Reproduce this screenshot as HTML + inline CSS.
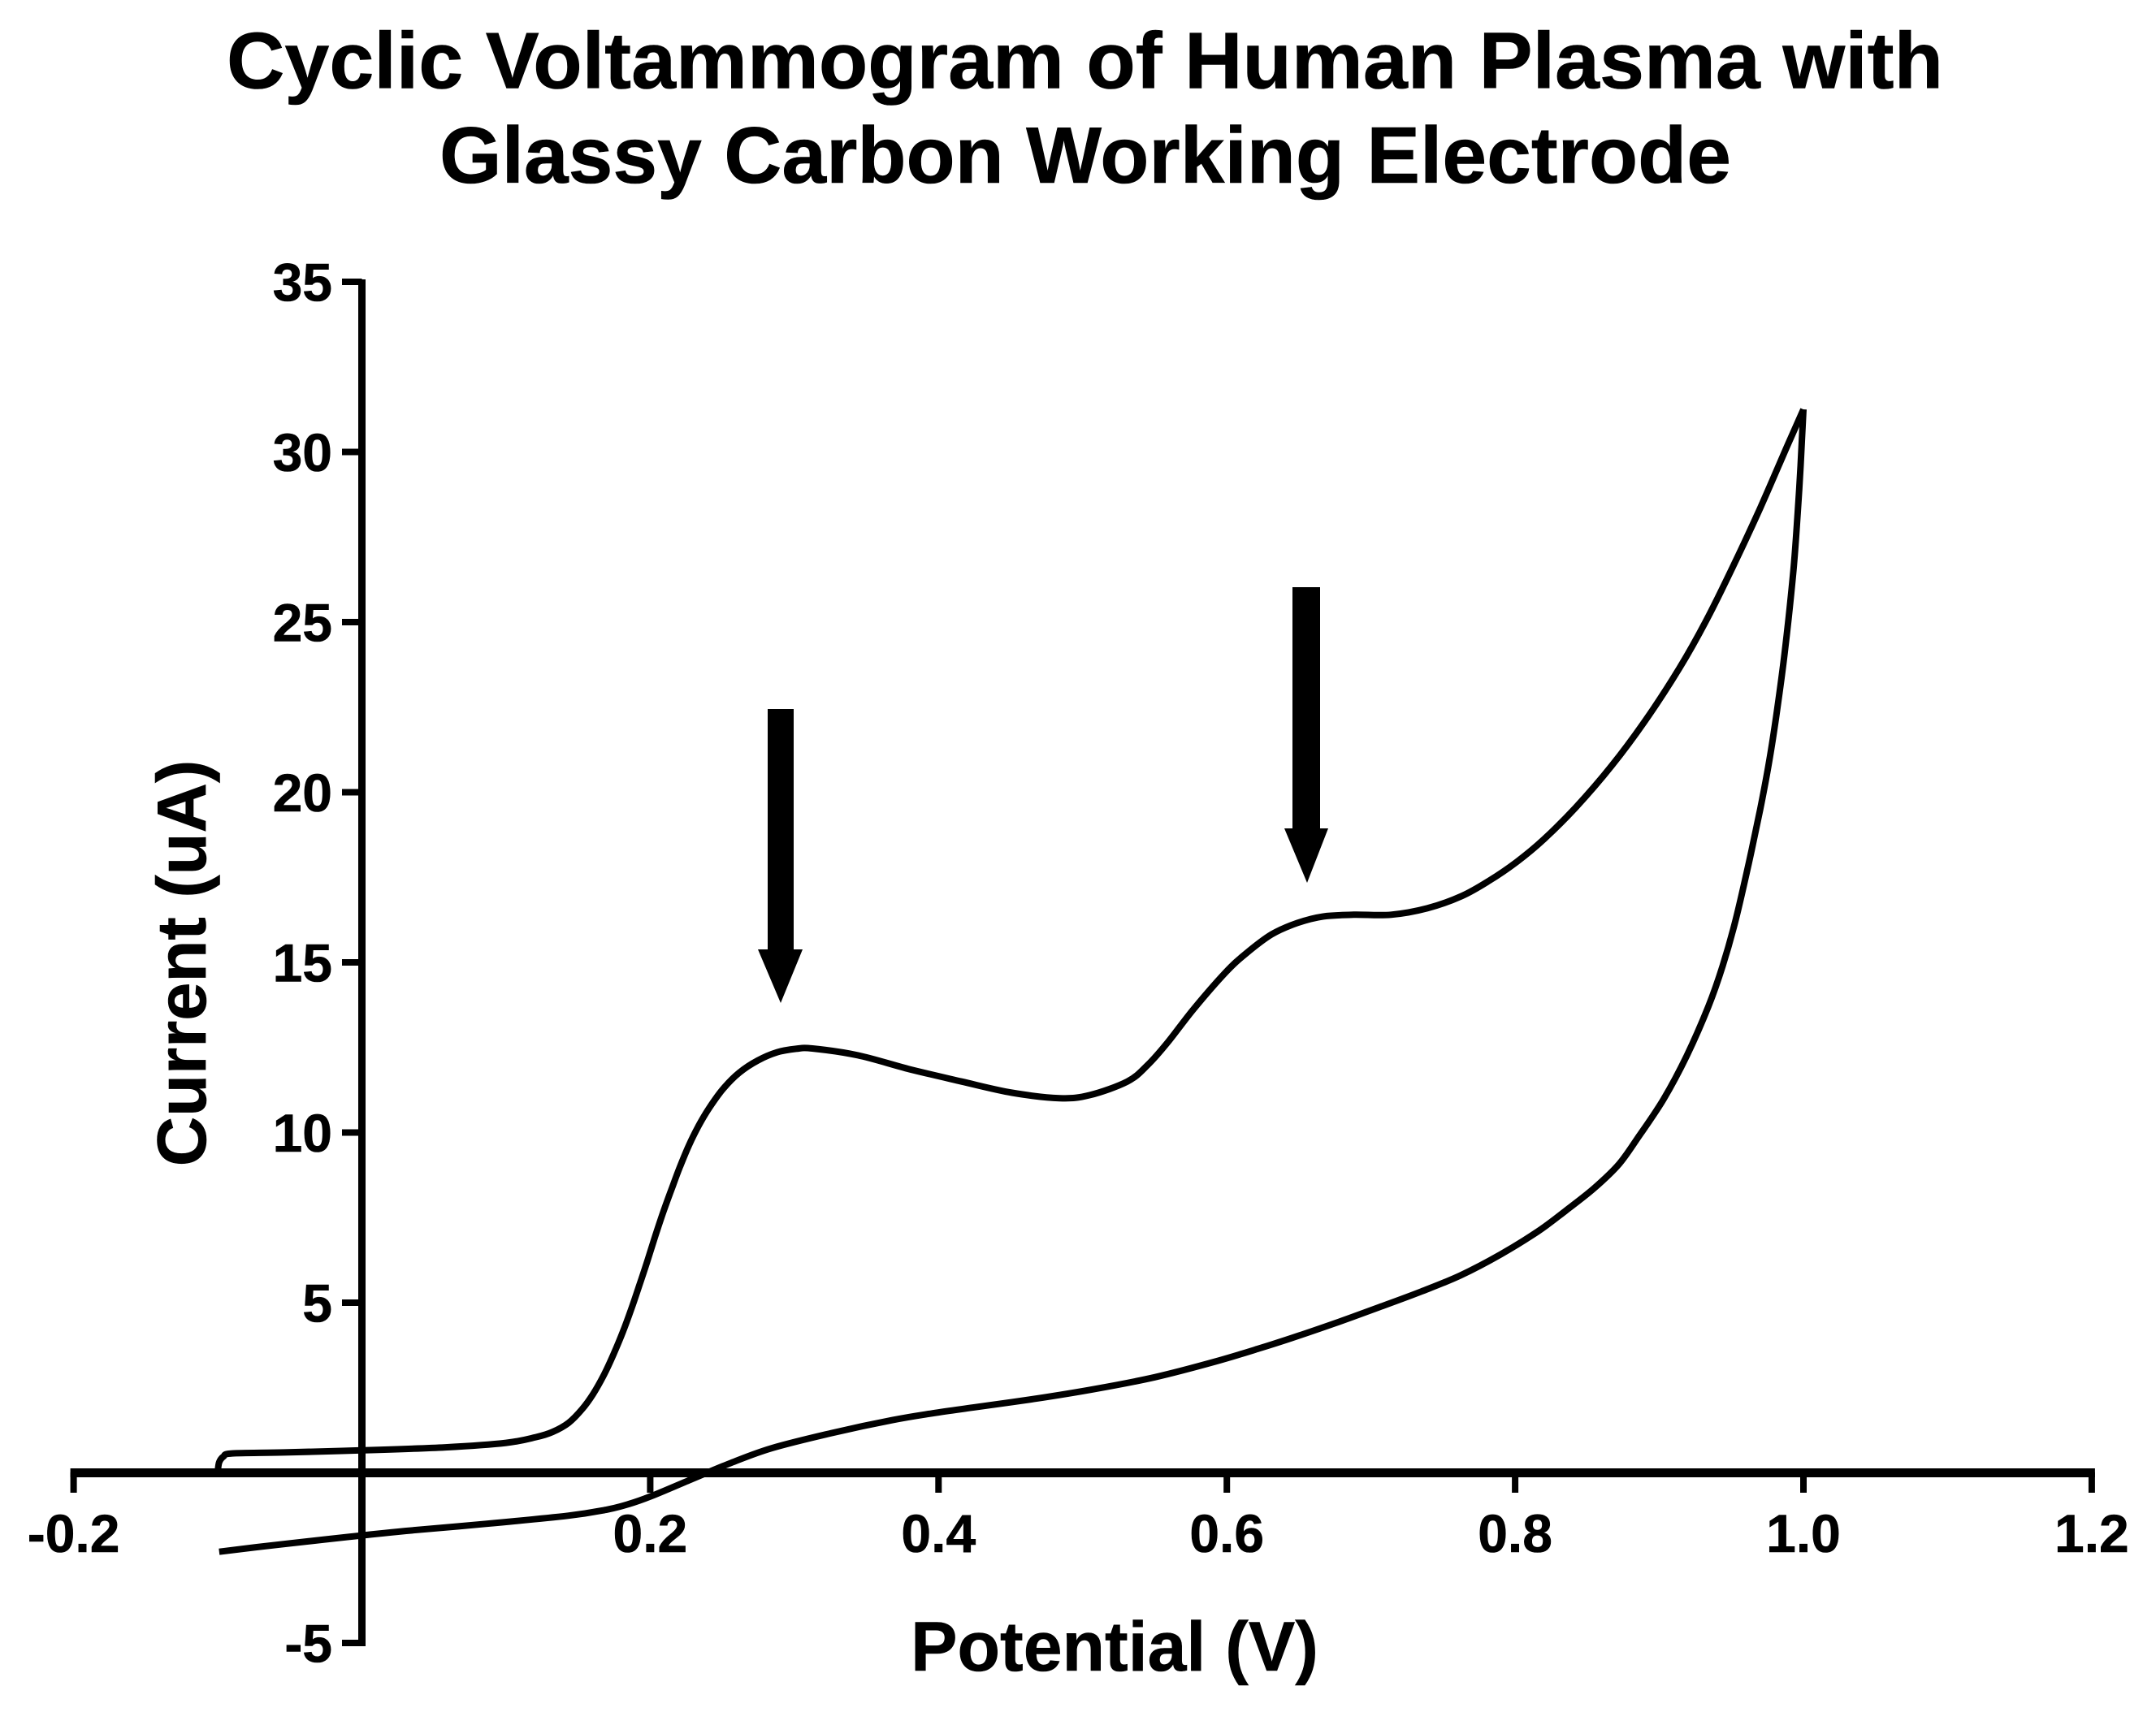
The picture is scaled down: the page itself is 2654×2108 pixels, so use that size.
<!DOCTYPE html>
<html lang="en">
<head>
<meta charset="utf-8">
<title>Cyclic Voltammogram of Human Plasma</title>
<style>
html,body{margin:0;padding:0;background:#fff;}
svg{display:block;}
text{font-family:"Liberation Sans",Arial,sans-serif;font-weight:700;fill:#000;stroke:#000;stroke-width:0.6;}
</style>
</head>
<body>
<svg id="chart" xmlns="http://www.w3.org/2000/svg" width="2654" height="2108" viewBox="0 0 2654 2108">
  <rect x="0" y="0" width="2654" height="2108" fill="#fff"/>
  <g>
    <text x="279" y="108.5" font-size="98.5" textLength="2113" lengthAdjust="spacingAndGlyphs">Cyclic Voltammogram of Human Plasma with</text>
    <text x="541" y="225" font-size="98.5" textLength="1590" lengthAdjust="spacingAndGlyphs">Glassy Carbon Working Electrode</text>
  </g>
  <g id="axes"></g>
  <g id="series"></g>
  <polygon points="945,873 977,873 977,1169 988,1169 961,1235 933,1169 945,1169" fill="#000"/>
  <polygon points="1591,723 1625,723 1625,1020 1635,1020 1609,1087 1581,1020 1591,1020" fill="#000"/>
  <text x="1372" y="2057" font-size="86" text-anchor="middle">Potential (V)</text>
  <text transform="translate(253 1186) rotate(-90)" font-size="85" text-anchor="middle">Current (uA)</text>
</svg>
<script>
const xTicks = [-0.2, 0.2, 0.4, 0.6, 0.8, 1.0, 1.2];
const xTickLabels = ["-0.2", "0.2", "0.4", "0.6", "0.8", "1.0", "1.2"];
const yTicks = [-5, 5, 10, 15, 20, 25, 30, 35];
const yTickLabels = ["-5", "5", "10", "15", "20", "25", "30", "35"];

const upperPotential = [-0.100, -0.099, -0.096, -0.090, -0.054, 0.000, 0.058, 0.100, 0.1209, 0.1322, 0.1434, 0.1528, 0.1603, 0.1678, 0.1744, 0.1810, 0.1866, 0.1923, 0.1979, 0.2035, 0.2092, 0.2157, 0.2205, 0.2268, 0.2336, 0.2409, 0.2505, 0.2618, 0.2747, 0.2882, 0.3012, 0.3125, 0.344, 0.380, 0.416, 0.451, 0.484, 0.505, 0.531, 0.545, 0.559, 0.577, 0.599, 0.613, 0.631, 0.649, 0.667, 0.688, 0.714, 0.739, 0.763, 0.782, 0.801, 0.820, 0.842, 0.867, 0.891, 0.914, 0.932, 0.951, 0.970, 0.989, 1.000];
const upperCurrent = [0.02, 0.31, 0.48, 0.57, 0.60, 0.66, 0.75, 0.88, 1.05, 1.20, 1.47, 1.87, 2.31, 2.87, 3.47, 4.14, 4.78, 5.49, 6.21, 6.96, 7.68, 8.44, 8.98, 9.62, 10.20, 10.72, 11.28, 11.76, 12.12, 12.36, 12.46, 12.47, 12.27, 11.86, 11.50, 11.17, 11.01, 11.10, 11.50, 11.98, 12.65, 13.63, 14.70, 15.25, 15.82, 16.16, 16.35, 16.40, 16.40, 16.59, 16.95, 17.40, 17.95, 18.62, 19.55, 20.78, 22.15, 23.65, 25.00, 26.62, 28.35, 30.20, 31.25];

const lowerPotential = [1.000, 0.998, 0.996, 0.993, 0.987, 0.981, 0.976, 0.970, 0.962, 0.953, 0.944, 0.934, 0.919, 0.903, 0.886, 0.872, 0.855, 0.835, 0.816, 0.790, 0.762, 0.735, 0.706, 0.678, 0.650, 0.622, 0.592, 0.550, 0.508, 0.466, 0.424, 0.396, 0.368, 0.326, 0.284, 0.256, 0.228, 0.201, 0.185, 0.170, 0.143, 0.086, 0.030, 0.000, -0.026, -0.068, -0.099];
const lowerCurrent = [31.25, 29.60, 28.20, 26.50, 24.10, 22.20, 20.85, 19.50, 17.90, 16.25, 14.90, 13.70, 12.25, 10.98, 9.90, 9.07, 8.37, 7.70, 7.10, 6.42, 5.80, 5.33, 4.87, 4.44, 4.03, 3.65, 3.27, 2.81, 2.46, 2.17, 1.92, 1.75, 1.55, 1.17, 0.72, 0.29, -0.20, -0.68, -0.92, -1.08, -1.26, -1.50, -1.71, -1.84, -1.96, -2.16, -2.32];

const NS = "http://www.w3.org/2000/svg";
function xScale(v) { return 445.5 + 1774.5 * v; }
function yScale(v) { return 1813.5 - 41.9 * v; }

const axesGroup = document.getElementById("axes");
const seriesGroup = document.getElementById("series");

function makeLine(x1, y1, x2, y2, width) {
  const l = document.createElementNS(NS, "line");
  l.setAttribute("x1", x1);
  l.setAttribute("y1", y1);
  l.setAttribute("x2", x2);
  l.setAttribute("y2", y2);
  l.setAttribute("stroke", "#000");
  l.setAttribute("stroke-width", width);
  return l;
}

const xAxisLine = makeLine(xScale(-0.2) - 4, 1813.5, xScale(1.2) + 4, 1813.5, 11);


axesGroup.appendChild(xAxisLine);

const yAxisLine = makeLine(xScale(0), yScale(35) - 3, xScale(0), yScale(-5) + 4, 9);


axesGroup.appendChild(yAxisLine);

xTicks.forEach(function (v, i) {
  const t = makeLine(xScale(v), 1813, xScale(v), 1838, 8);
  
  
  axesGroup.appendChild(t);
  const lab = document.createElementNS(NS, "text");
  lab.setAttribute("x", xScale(v));
  lab.setAttribute("y", 1911);
  lab.setAttribute("font-size", 66);
  lab.setAttribute("text-anchor", "middle");
  lab.textContent = xTickLabels[i];
  
  
  axesGroup.appendChild(lab);
});

yTicks.forEach(function (v, i) {
  const t = makeLine(421, yScale(v), xScale(0), yScale(v), 8);
  
  
  axesGroup.appendChild(t);
  const lab = document.createElementNS(NS, "text");
  lab.setAttribute("x", 409);
  lab.setAttribute("y", yScale(v) + 23.5);
  lab.setAttribute("font-size", 66);
  lab.setAttribute("text-anchor", "end");
  lab.textContent = yTickLabels[i];
  
  
  axesGroup.appendChild(lab);
});

function smoothPath(xs, ys) {
  const p = xs.map(function (x, i) { return [xScale(x), yScale(ys[i])]; });
  let d = "M" + p[0][0].toFixed(1) + " " + p[0][1].toFixed(1);
  for (let i = 0; i < p.length - 1; i++) {
    const a = p[Math.max(i - 1, 0)];
    const b = p[i];
    const c = p[i + 1];
    const e = p[Math.min(i + 2, p.length - 1)];
    const c1x = b[0] + (c[0] - a[0]) / 6;
    const c1y = b[1] + (c[1] - a[1]) / 6;
    const c2x = c[0] - (e[0] - b[0]) / 6;
    const c2y = c[1] - (e[1] - b[1]) / 6;
    d += "C" + c1x.toFixed(1) + " " + c1y.toFixed(1) + " " + c2x.toFixed(1) + " " + c2y.toFixed(1) + " " + c[0].toFixed(1) + " " + c[1].toFixed(1);
  }
  return d;
}

const upperSweep = document.createElementNS(NS, "path");
upperSweep.setAttribute("d", smoothPath(upperPotential, upperCurrent));
upperSweep.setAttribute("fill", "none");
upperSweep.setAttribute("stroke", "#000");
upperSweep.setAttribute("stroke-width", 8);
upperSweep.setAttribute("stroke-linejoin", "round");


seriesGroup.appendChild(upperSweep);

const lowerSweep = document.createElementNS(NS, "path");
lowerSweep.setAttribute("d", smoothPath(lowerPotential, lowerCurrent));
lowerSweep.setAttribute("fill", "none");
lowerSweep.setAttribute("stroke", "#000");
lowerSweep.setAttribute("stroke-width", 8);
lowerSweep.setAttribute("stroke-linejoin", "round");


seriesGroup.appendChild(lowerSweep);
</script>
</body>
</html>
